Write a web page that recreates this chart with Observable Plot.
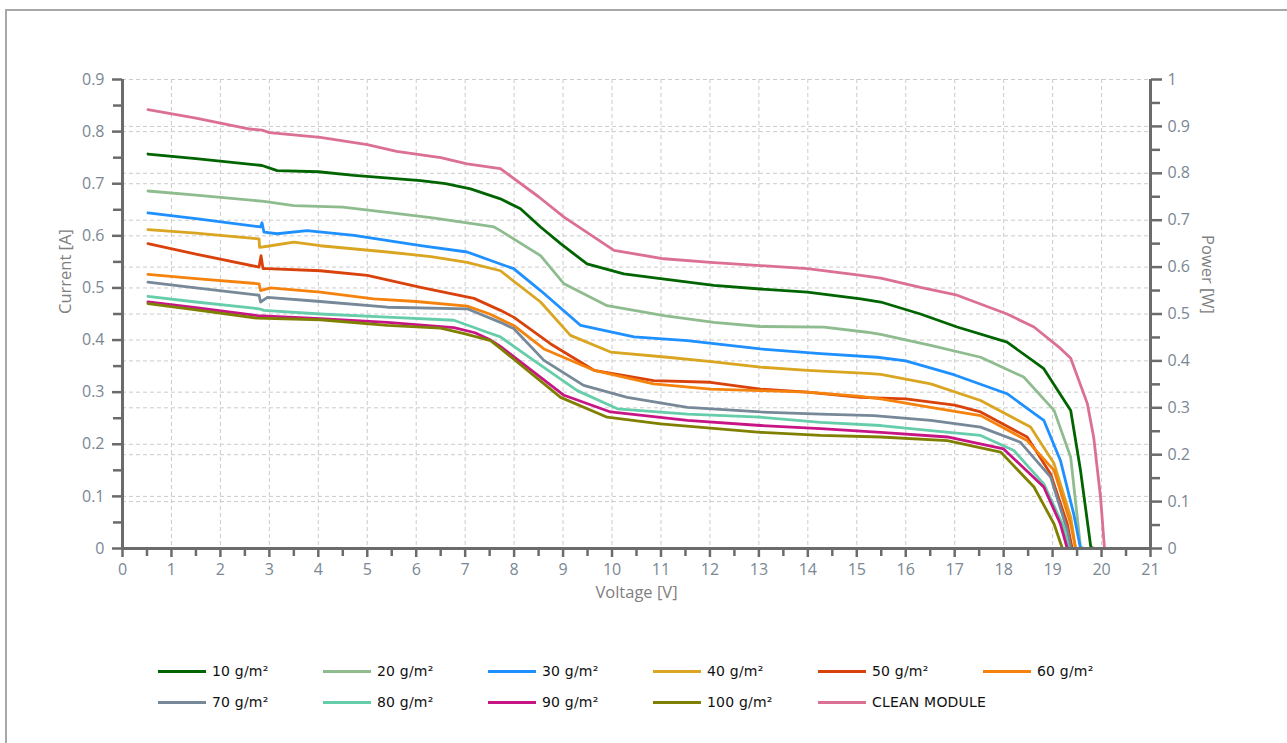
<!DOCTYPE html>
<html>
<head>
<meta charset="utf-8">
<script src="https://cdn.jsdelivr.net/npm/d3@7"></script>
<script src="https://cdn.jsdelivr.net/npm/@observablehq/plot@0.6"></script>
<style>
  html, body { margin: 0; padding: 0; background: #fff; }
  #wrap { position: relative; width: 1287px; height: 743px; overflow: hidden; }
  #frame { position: absolute; left: 5px; top: 9px; width: 1300px; height: 760px; border: 2px solid #a8a8a8; box-sizing: border-box; }
  #chart { position: absolute; left: 0; top: 0; }
  #legend { position: absolute; left: 0; top: 0; width: 1287px; height: 743px; pointer-events: none; }
  .item { position: absolute; height: 20px; display: flex; align-items: center; font-family: "DejaVu Sans", sans-serif; font-size: 14px; color: #111; white-space: nowrap; letter-spacing: 0.2px; }
  .sw { display: inline-block; width: 48px; height: 3px; margin-right: 6px; }
</style>
</head>
<body>
<div id="wrap">
  <div id="frame"></div>
  <div id="chart"></div>
  <div id="legend"></div>
</div>
<script>
// ---- Data ----
const seriesNames = ["10 g/m²", "20 g/m²", "30 g/m²", "40 g/m²", "50 g/m²", "60 g/m²",
                     "70 g/m²", "80 g/m²", "90 g/m²", "100 g/m²", "CLEAN MODULE"];
const seriesColors = ["#006400", "#8fbc8f", "#1e90ff", "#daa520", "#d9420b", "#f5820d",
                      "#778899", "#66cdaa", "#c71585", "#808000", "#db7093"];

// [voltage V, current A]
const s10 = [[0.52,0.757],[1.5,0.748],[2.85,0.735],[3.16,0.725],[4.0,0.723],[4.73,0.716],[6.09,0.706],[6.6,0.700],[7.11,0.690],[7.72,0.671],[8.13,0.652],[8.54,0.617],[8.95,0.585],[9.49,0.546],[10.24,0.527],[10.99,0.518],[12.08,0.505],[13.03,0.498],[13.99,0.492],[15.08,0.479],[15.49,0.473],[16.3,0.450],[17.05,0.425],[18.07,0.396],[18.82,0.345],[19.37,0.265],[19.57,0.150],[19.78,0.003],[19.84,0]];
const s20 = [[0.52,0.686],[1.5,0.678],[2.89,0.666],[3.5,0.658],[4.5,0.655],[5.41,0.645],[6.3,0.635],[7.18,0.623],[7.59,0.617],[7.72,0.610],[8.54,0.562],[9.02,0.508],[9.9,0.466],[11.06,0.447],[12.08,0.434],[13.03,0.426],[14.33,0.425],[15.21,0.415],[15.49,0.411],[16.3,0.394],[16.51,0.390],[17.53,0.367],[18.41,0.329],[19.03,0.265],[19.37,0.175],[19.57,0.003],[19.64,0]];
const s30 = [[0.52,0.644],[1.5,0.633],[2.82,0.617],[2.85,0.625],[2.89,0.607],[3.16,0.604],[3.77,0.610],[4.73,0.601],[6.09,0.581],[7.04,0.569],[7.72,0.546],[7.99,0.537],[8.54,0.495],[9.36,0.428],[10.45,0.406],[11.54,0.399],[13.03,0.383],[14.26,0.374],[15.42,0.367],[16.0,0.360],[17.0,0.333],[18.07,0.297],[18.82,0.246],[19.16,0.169],[19.43,0.067],[19.57,0]];
const s40 = [[0.52,0.612],[1.5,0.605],[2.79,0.594],[2.8,0.578],[2.96,0.580],[3.5,0.588],[4.04,0.581],[5.41,0.569],[6.3,0.560],[7.04,0.549],[7.72,0.533],[8.54,0.473],[9.15,0.409],[9.97,0.377],[11.13,0.367],[12.08,0.358],[13.03,0.348],[13.99,0.342],[15.21,0.336],[15.49,0.334],[16.51,0.316],[17.53,0.284],[18.55,0.233],[19.03,0.163],[19.37,0.060],[19.47,0]];
const s50 = [[0.52,0.585],[1.5,0.565],[2.79,0.540],[2.83,0.562],[2.87,0.537],[2.96,0.537],[4.04,0.533],[5.0,0.524],[6.09,0.501],[7.18,0.480],[7.72,0.457],[7.99,0.444],[8.74,0.393],[9.63,0.342],[10.85,0.322],[12.01,0.319],[13.03,0.306],[13.99,0.300],[15.08,0.290],[16.0,0.287],[17.0,0.275],[17.53,0.262],[18.48,0.214],[18.96,0.143],[19.30,0.047],[19.40,0]];
const s60 = [[0.52,0.526],[1.5,0.518],[2.79,0.508],[2.82,0.495],[3.02,0.500],[4.04,0.492],[5.13,0.479],[6.0,0.474],[7.04,0.465],[7.5,0.450],[7.99,0.428],[8.61,0.383],[9.63,0.342],[10.85,0.316],[12.01,0.306],[13.03,0.303],[13.99,0.300],[15.08,0.292],[15.49,0.287],[16.51,0.271],[17.53,0.255],[18.48,0.207],[19.03,0.150],[19.37,0.047],[19.47,0]];
const s70 = [[0.52,0.511],[1.5,0.500],[2.79,0.486],[2.82,0.473],[2.96,0.482],[4.04,0.474],[5.41,0.463],[7.04,0.460],[7.72,0.434],[7.99,0.422],[8.61,0.361],[9.42,0.313],[10.31,0.290],[11.54,0.271],[13.03,0.262],[14.26,0.258],[15.35,0.255],[16.51,0.246],[17.53,0.233],[18.34,0.204],[18.96,0.137],[19.30,0.035],[19.37,0]];
const s80 = [[0.52,0.484],[1.5,0.473],[2.79,0.460],[2.89,0.457],[4.04,0.450],[5.41,0.444],[6.77,0.438],[7.45,0.415],[7.72,0.406],[8.40,0.361],[9.29,0.303],[10.11,0.268],[11.54,0.258],[13.03,0.252],[14.26,0.242],[15.49,0.236],[16.51,0.226],[17.53,0.217],[18.21,0.188],[18.82,0.124],[19.23,0.041],[19.33,0]];
const s90 = [[0.52,0.473],[1.5,0.462],[2.75,0.447],[4.04,0.441],[5.41,0.434],[6.77,0.424],[7.2,0.414],[7.52,0.400],[7.72,0.388],[9.02,0.294],[9.97,0.262],[11.54,0.246],[13.03,0.236],[14.26,0.230],[15.49,0.223],[16.85,0.214],[18.0,0.191],[18.82,0.118],[19.16,0.047],[19.30,0]];
const s100 = [[0.52,0.470],[1.5,0.458],[2.75,0.442],[4.04,0.439],[5.41,0.428],[6.5,0.423],[7.0,0.412],[7.52,0.399],[7.72,0.384],[8.95,0.290],[9.9,0.252],[10.99,0.239],[13.03,0.223],[14.26,0.217],[15.49,0.214],[16.85,0.207],[17.94,0.185],[18.62,0.118],[19.03,0.047],[19.20,0]];
const sClean = [[0.52,0.842],[1.5,0.826],[2.6,0.805],[2.85,0.803],[3.0,0.798],[4.04,0.789],[5.0,0.775],[5.6,0.762],[6.5,0.750],[7.04,0.738],[7.72,0.729],[8.5,0.675],[9.02,0.636],[10.04,0.572],[11.06,0.556],[12.01,0.549],[13.03,0.543],[13.99,0.537],[15.01,0.525],[15.49,0.519],[16.3,0.501],[17.05,0.486],[18.07,0.450],[18.62,0.425],[19.16,0.384],[19.37,0.365],[19.71,0.278],[19.84,0.213],[19.98,0.098],[20.06,0],[20.22,0]];
const seriesData = [s10, s20, s30, s40, s50, s60, s70, s80, s90, s100, sClean];

// Axis ticks
const voltTicks = d3.range(0, 22, 1);
const voltMinor = d3.range(0.5, 21, 1);
const currentTicks = [0, 0.1, 0.2, 0.3, 0.4, 0.5, 0.6, 0.7, 0.8, 0.9];
const currentMinor = [0.05, 0.15, 0.25, 0.35, 0.45, 0.55, 0.65, 0.75, 0.85];
const powerTicks = [0, 0.1, 0.2, 0.3, 0.4, 0.5, 0.6, 0.7, 0.8, 0.9, 1];
const powerMinor = [0.05, 0.15, 0.25, 0.35, 0.45, 0.55, 0.65, 0.75, 0.85, 0.95];
const currentMax = 0.9, powerMax = 1;

// ---- Build table ----
const rows = [];
seriesData.forEach((pts, k) => pts.forEach(([v, i]) => rows.push({series: seriesNames[k], v, i})));
const p2c = p => p * currentMax / powerMax;   // power value -> shared y scale

const axisColor = "#6b6b6b";
const labelColor = "#7a8794";
const titleColor = "#808080";
const gridStyle = {stroke: "#cbcbcb", strokeOpacity: 1, strokeDasharray: "4,3", strokeWidth: 1};

const chart = Plot.plot({
  width: 1287, height: 650,
  marginTop: 79, marginBottom: 102, marginLeft: 122, marginRight: 137,
  style: {fontFamily: "'Open Sans', sans-serif", fontSize: "16px", background: "transparent", overflow: "visible"},
  x: {domain: [0, 21], axis: null},
  y: {domain: [0, currentMax], axis: null},
  color: {domain: seriesNames, range: seriesColors},
  marks: [
    Plot.gridX(voltTicks, gridStyle),
    Plot.gridY(currentTicks, gridStyle),
    Plot.gridY(powerTicks.map(p2c), gridStyle),
    Plot.line(rows, {x: "v", y: "i", z: "series", stroke: "series", strokeWidth: 2.8, curve: "linear"}),
    Plot.axisX({ticks: voltTicks, tickSize: 9, tickPadding: 6, stroke: axisColor, strokeWidth: 2.5, fill: labelColor, tickFormat: d => String(d), label: null}),
    Plot.axisX({ticks: voltMinor, tickSize: 8, stroke: axisColor, strokeWidth: 2.5, tickFormat: () => "", label: null}),
    Plot.axisY({anchor: "left", ticks: currentTicks, tickSize: 10, tickPadding: 8, stroke: axisColor, strokeWidth: 2.5, fill: labelColor, tickFormat: d => d === 0 ? "0" : d.toFixed(1), label: null}),
    Plot.axisY({anchor: "left", ticks: currentMinor, tickSize: 9, stroke: axisColor, strokeWidth: 2.5, tickFormat: () => "", label: null}),
    Plot.axisY({anchor: "right", ticks: powerTicks.map(p2c), tickSize: 11, tickPadding: 6, stroke: axisColor, strokeWidth: 2.5, fill: labelColor,
      tickFormat: d => { const p = Math.round(d * powerMax / currentMax * 100) / 100; return p === 0 ? "0" : (p === 1 ? "1" : p.toFixed(1)); }, label: null}),
    Plot.axisY({anchor: "right", ticks: powerMinor.map(p2c), tickSize: 9, stroke: axisColor, strokeWidth: 2.5, tickFormat: () => "", label: null}),
    Plot.ruleX([0, 21], {stroke: axisColor, strokeWidth: 3}),
    Plot.ruleY([0], {stroke: axisColor, strokeWidth: 3}),
    Plot.text(["Current [A]"], {frameAnchor: "left", dx: -57, rotate: -90, fill: titleColor, fontSize: 16.5}),
    Plot.text(["Power [W]"], {frameAnchor: "right", dx: 57, rotate: 90, fill: titleColor, fontSize: 16.5}),
    Plot.text(["Voltage [V]"], {frameAnchor: "bottom", dy: 49, fill: titleColor, fontSize: 16.5})
  ]
});
document.getElementById("chart").appendChild(chart);

// ---- Legend (HTML, below the SVG plot area) ----
const legend = document.getElementById("legend");
const colX = [158, 323, 488, 653, 818, 983];
const rowY = [661, 692];
seriesNames.forEach((name, k) => {
  const r = Math.floor(k / 6), c = k % 6;
  const item = document.createElement("div");
  item.className = "item";
  item.style.left = colX[c] + "px";
  item.style.top = rowY[r] + "px";
  const sw = document.createElement("span");
  sw.className = "sw";
  sw.style.background = seriesColors[k];
  const t = document.createElement("span");
  t.textContent = name;
  item.appendChild(sw);
  item.appendChild(t);
  legend.appendChild(item);
});
</script>
</body>
</html>
